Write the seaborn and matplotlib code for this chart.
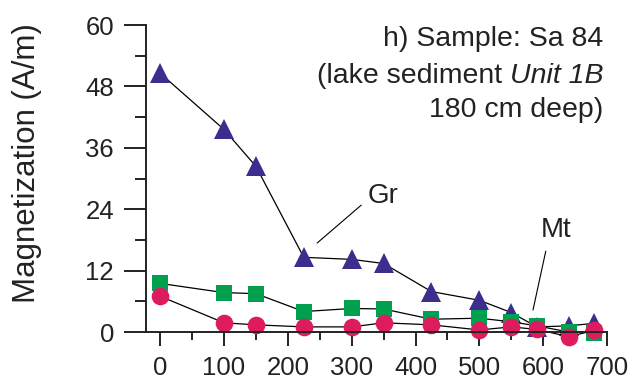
import numpy as np
import matplotlib
matplotlib.use("Agg")
import matplotlib.pyplot as plt
import seaborn as sns

# Data
temps = [0, 100, 150, 225, 300, 350, 425, 500, 550, 590, 640, 680]
gr_vals = [50.6, 39.6, 32.4, 14.6, 14.2, 13.4, 7.9, 6.2, 3.8, 1.0, 1.2, 1.7]
square_vals = [9.5, 7.7, 7.5, 4.0, 4.6, 4.5, 2.5, 2.7, 2.0, 1.2, 0.0, -0.1]
circle_vals = [7.0, 1.8, 1.4, 1.0, 1.0, 1.8, 1.4, 0.4, 1.0, 0.5, -0.9, 0.3]

y_ticks = [0, 12, 24, 36, 48, 60]
x_ticks = [0, 100, 200, 300, 400, 500, 600, 700]

sns.set_style("ticks")
plt.rcParams["font.family"] = ["Liberation Sans", "DejaVu Sans"]

ink = "#222222"
fig = plt.figure(figsize=(6.35, 3.8), dpi=100)
ax = fig.add_axes([0.23, 0.1263, 0.956 - 0.23, 0.934 - 0.1263])

series = [
    (gr_vals, "^", 15, "#3B2E8F"),
    (square_vals, "s", 11.5, "#00A04F"),
    (circle_vals, "o", 12.7, "#DF1B5F"),
]
for vals, mk, ms, col in series:
    sns.lineplot(x=temps, y=vals, ax=ax, color="black", lw=0.9, marker=mk,
                 markersize=ms, markerfacecolor=col, markeredgecolor=col,
                 markeredgewidth=0, estimator=None, clip_on=False)

ax.set_xlim(-22, 700)
ax.set_ylim(0, 60)
ax.set_xticks(x_ticks)
ax.set_xticks(np.arange(50, 700, 100), minor=True)
ax.set_yticks(y_ticks)
ax.set_yticks(np.arange(6, 60, 12), minor=True)
ax.tick_params(axis="both", which="both", color=ink, width=1.4, labelsize=18.5,
               labelcolor=ink, pad=7)
ax.tick_params(axis="y", which="major", length=16)
ax.tick_params(axis="y", which="minor", length=8)
ax.tick_params(axis="x", which="major", length=10)
ax.tick_params(axis="x", which="minor", length=6)
sns.despine(ax=ax)
for sp in ["left", "bottom"]:
    ax.spines[sp].set_linewidth(1.4)
    ax.spines[sp].set_color(ink)
ax.set_xlabel("")
ax.set_ylabel("")

fig.text(27 / 635, 1 - 163 / 380, "Magnetization (A/m)", rotation=90, ha="center",
         va="center", fontsize=22.5, color=ink)

# sample description, right aligned
fs = 20.5
ax.text(694, 56.0, "h) Sample: Sa 84", ha="right", va="baseline", fontsize=fs, color=ink)
it = ax.text(695, 47.5, "Unit 1B", ha="right", va="bottom", fontsize=fs, color=ink,
             style="italic")
ax.annotate("(lake sediment ", xy=(0, 0), xycoords=it, ha="right", va="bottom",
            fontsize=fs, color=ink)
ax.text(694, 42.1, "180 cm deep)", ha="right", va="baseline", fontsize=fs, color=ink)

# labels with leader lines
ax.text(349, 26.6, "Gr", ha="center", va="center", fontsize=20, color=ink)
ax.plot([246, 315], [17.4, 24.8], color="black", lw=0.8)
ax.text(620, 19.9, "Mt", ha="center", va="center", fontsize=20, color=ink)
ax.plot([584, 604], [4.3, 15.8], color="black", lw=0.8)

fig.savefig("out.png", dpi=100)
